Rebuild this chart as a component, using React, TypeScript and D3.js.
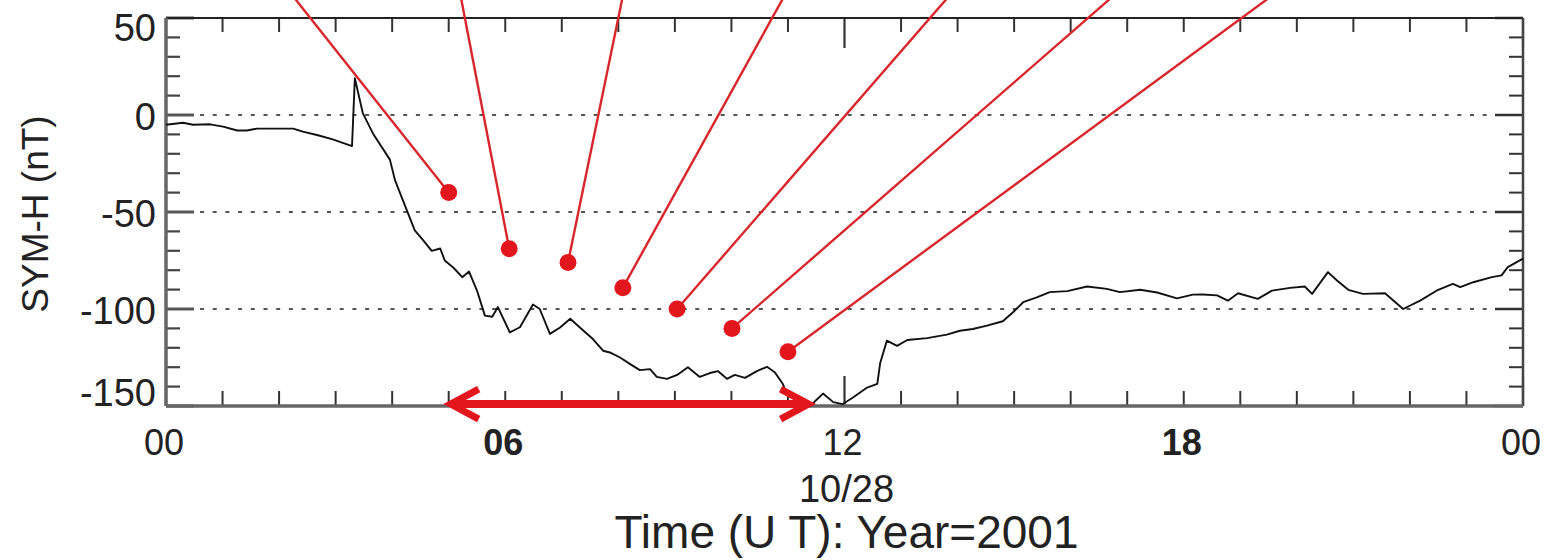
import React from 'react';
import * as d3 from 'd3';

// SYM-H series (hours UT on 2001-10-28, nT)
const hours = [
  0.0, 0.3, 0.48, 0.78, 1.01, 1.26, 1.43, 1.61, 2.25, 2.42, 2.67, 2.95, 3.29, 3.34, 3.48, 3.66, 3.96, 4.05,
  4.19, 4.4, 4.55, 4.7, 4.85, 4.93, 5.08, 5.24, 5.36, 5.5, 5.64, 5.77, 5.87, 6.08, 6.26, 6.49, 6.61, 6.79,
  6.97, 7.15, 7.32, 7.55, 7.73, 7.85, 8.03, 8.21, 8.38, 8.56, 8.68, 8.86, 9.04, 9.23, 9.44, 9.62, 9.76, 9.92,
  10.06, 10.24, 10.45, 10.63, 10.77, 10.91, 10.98, 11.04, 11.21, 11.39, 11.62, 11.8, 11.97, 12.15, 12.4, 12.58,
  12.63, 12.75, 12.93, 13.11, 13.46, 13.81, 14.04, 14.27, 14.52, 14.8, 14.98, 15.16, 15.4, 15.63, 15.94, 16.29,
  16.64, 16.87, 17.23, 17.53, 17.88, 18.16, 18.34, 18.59, 18.78, 18.96, 19.31, 19.56, 19.88, 20.14, 20.27,
  20.55, 20.71, 20.91, 21.17, 21.56, 21.88, 22.18, 22.5, 22.76, 22.89, 23.12, 23.45, 23.62, 23.73, 24.0,
];
const symH = [
  -5, -4, -5, -4.8, -6, -8, -8, -7, -7, -8.6, -10.3, -12.6, -16, 19, 1, -9.5, -23, -33.6,
  -44, -59.5, -64.6, -70, -68.8, -75, -78.6, -83.6, -80.7, -90.5, -103.4, -104, -99, -112, -109.4, -97.7, -100, -112.8,
  -109.5, -105, -109.5, -115.5, -121.5, -122.4, -125, -128.4, -131.5, -131, -135, -136, -134, -130, -135, -133, -132, -136,
  -134, -135.5, -132, -129.8, -132.7, -138.7, -143.8, -145, -148, -150, -143.6, -148, -149, -145.6, -140.5, -138.6,
  -128, -116.3, -119, -116, -115, -113.2, -111.2, -110.3, -108.6, -106.3, -101.7, -96.5, -94, -91.3, -90.8, -88.4,
  -89.6, -91.3, -90.1, -91.5, -94.5, -92.6, -92.5, -93, -95.7, -91.9, -94.8, -90.5, -89.1, -88.4, -92.2,
  -81, -85.3, -90.1, -92.2, -91.9, -100, -95.7, -90.1, -87, -88.7, -86.2, -83.6, -82.7, -78.4, -74,
];

// red annotation markers and their leader lines
const markerHours = [5.0, 6.07, 7.11, 8.08, 9.04, 10.01, 11.0];
const markerValues = [-40, -69, -76, -89, -100, -110, -122];
const leaderTopHours = [2.28, 5.22, 8.07, 10.91, 13.81, 16.7, 19.49];
const leaderTopValue = 60;

// red double arrow (main phase span)
const spanStart = 5.0;
const spanEnd = 11.4;
const spanValue = -149;

// axes
const yMajorTicks = [50, 0, -50, -100, -150];
const yMinorTicks = [40, 30, 20, 10, -10, -20, -30, -40, -60, -70, -80, -90, -110, -120, -130, -140];
const gridValues = [0, -50, -100];
const xMajorHours = [0, 12, 24];
const xMinorHours = [1, 2, 3, 4, 5, 6, 7, 8, 9, 10, 11, 13, 14, 15, 16, 17, 18, 19, 20, 21, 22, 23];
const xTickHours = [0, 6, 12, 18, 24];
const xTickLabels = ['00', '06', '12', '18', '00'];
const dateLabel = '10/28';
const xTitle = 'Time (U T): Year=2001';
const yTitle = 'SYM-H (nT)';

const W = 1551;
const H = 560;
const FONT = '"Liberation Sans", Arial, Helvetica, sans-serif';
const RED = '#e3161e';
const LINE_RED = '#d8262c';

export default function App() {
  const x = d3.scaleLinear().domain([0, 24]).range([166, 1523]);
  const y = d3.scaleLinear().domain([-150, 50]).range([406, 18]);
  const [x0, x1] = x.range();
  const [yb, yt] = y.range();

  const line = d3
    .line<number>()
    .x((_, i) => x(hours[i]))
    .y((_, i) => y(symH[i]));
  const path = line(symH) || '';

  const majorLen = 28;
  const minorLen = 14;

  const ax = x(spanStart);
  const bx = x(spanEnd);
  const ay = y(spanValue);

  return (
    <svg width={W} height={H} style={{ position: 'absolute', left: 0, top: 0, background: '#fff' }} fontFamily={FONT}>
      <rect x={0} y={0} width={W} height={H} fill="#fff" />
      {/* dotted reference lines */}
      {gridValues.map((v) => (
        <line
          key={'g' + v}
          x1={x0 + 34}
          x2={x1 - 34}
          y1={y(v)}
          y2={y(v)}
          stroke="#555"
          strokeWidth={2.2}
          strokeDasharray="4 8.7"
        />
      ))}
      {/* y ticks */}
      {yMajorTicks.map((v) => (
        <g key={'ym' + v}>
          <line x1={x0} x2={x0 + majorLen} y1={y(v)} y2={y(v)} stroke="#555" strokeWidth={3} />
          <line x1={x1} x2={x1 - majorLen} y1={y(v)} y2={y(v)} stroke="#333" strokeWidth={2.5} />
        </g>
      ))}
      {yMinorTicks.map((v) => (
        <g key={'yn' + v}>
          <line x1={x0} x2={x0 + minorLen} y1={y(v)} y2={y(v)} stroke="#444" strokeWidth={2.2} />
          <line x1={x1} x2={x1 - minorLen} y1={y(v)} y2={y(v)} stroke="#333" strokeWidth={2} />
        </g>
      ))}
      {/* x ticks */}
      {xMajorHours.map((h) => (
        <g key={'xm' + h}>
          <line x1={x(h)} x2={x(h)} y1={yb} y2={yb - 30} stroke="#333" strokeWidth={2.2} />
          <line x1={x(h)} x2={x(h)} y1={yt} y2={yt + 30} stroke="#333" strokeWidth={2.2} />
        </g>
      ))}
      {xMinorHours.map((h) => (
        <g key={'xn' + h}>
          <line x1={x(h)} x2={x(h)} y1={yb} y2={yb - 15} stroke="#333" strokeWidth={2} />
          <line x1={x(h)} x2={x(h)} y1={yt} y2={yt + 14} stroke="#333" strokeWidth={2} />
        </g>
      ))}
      {/* frame */}
      <line x1={x0} x2={x1} y1={yt} y2={yt} stroke="#222" strokeWidth={2} />
      <line x1={x1} x2={x1} y1={yt} y2={yb} stroke="#444" strokeWidth={2.5} />
      <line x1={x0} x2={x1} y1={yb} y2={yb} stroke="#666" strokeWidth={3.5} />
      <line x1={x0} x2={x0} y1={yt} y2={yb} stroke="#666" strokeWidth={3.5} />

      {/* SYM-H curve */}
      <path d={path} fill="none" stroke="#111" strokeWidth={1.9} strokeLinejoin="round" />

      {/* leader lines and markers */}
      {markerHours.map((h, i) => (
        <line
          key={'l' + i}
          x1={x(h)}
          y1={y(markerValues[i])}
          x2={x(leaderTopHours[i])}
          y2={y(leaderTopValue)}
          stroke={LINE_RED}
          strokeWidth={2.4}
        />
      ))}
      {markerHours.map((h, i) => (
        <circle key={'c' + i} cx={x(h)} cy={y(markerValues[i])} r={8.5} fill={RED} />
      ))}

      {/* double-headed arrow */}
      <line x1={ax + 4} x2={bx - 4} y1={ay} y2={ay} stroke={RED} strokeWidth={8} />
      <polyline
        points={`${ax + 30},${ay - 15} ${ax + 2},${ay} ${ax + 30},${ay + 15}`}
        fill="none"
        stroke={RED}
        strokeWidth={7}
        strokeLinejoin="miter"
      />
      <polyline
        points={`${bx - 30},${ay - 15} ${bx - 2},${ay} ${bx - 30},${ay + 15}`}
        fill="none"
        stroke={RED}
        strokeWidth={7}
        strokeLinejoin="miter"
      />

      {/* y tick labels */}
      {yMajorTicks.map((v, i) => {
        const off = i === 0 ? 10 : i === yMajorTicks.length - 1 ? -13 : 2;
        return (
          <text
            key={'yl' + v}
            x={156}
            y={y(v) + off}
            textAnchor="end"
            dominantBaseline="central"
            fontSize={38}
            fill="#222"
          >
            {v}
          </text>
        );
      })}
      {/* x tick labels */}
      {xTickHours.map((h, i) => (
        <text
          key={'xl' + i}
          x={x(h) - 2}
          y={455}
          textAnchor="middle"
          fontSize={36}
          fontWeight={h % 12 === 0 ? 'normal' : 'bold'}
          fill="#222"
        >
          {xTickLabels[i]}
        </text>
      ))}
      <text x={x(12) + 2} y={502} textAnchor="middle" fontSize={38} fill="#222">
        {dateLabel}
      </text>
      <text x={x(12) + 2} y={548} textAnchor="middle" fontSize={46} fill="#222">
        {xTitle}
      </text>
      <text
        transform={`translate(48, ${214}) rotate(-90)`}
        textAnchor="middle"
        fontSize={37}
        fill="#222"
      >
        {yTitle}
      </text>
    </svg>
  );
}
